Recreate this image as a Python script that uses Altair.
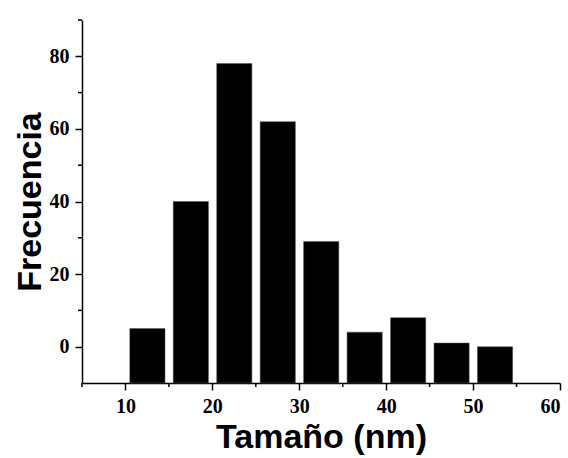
import altair as alt
import pandas as pd

bin_start = [10, 15, 20, 25, 30, 35, 40, 45, 50]
frecuencia = [5, 40, 78, 62, 29, 4, 8, 1, 0]
x_major = [10, 20, 30, 40, 50, 60]
x_minor = [5, 15, 25, 35, 45, 55]
y_major = [0, 20, 40, 60, 80]
y_minor = [10, 30, 50, 70, 90]

W, H = 478, 363

df = pd.DataFrame({"start": bin_start, "freq": frecuencia})
xs = alt.Scale(domain=[5, 60], nice=False, zero=False)
ys = alt.Scale(domain=[-10, 90], nice=False, zero=False)

bars = alt.Chart(df).transform_calculate(
    x0="datum.start + 0.5", x1="datum.start + 4.55", base="-10"
).mark_bar(color="black", stroke="#555", strokeWidth=0.5).encode(
    x=alt.X("x0:Q", scale=xs, title="Tamaño (nm)",
            axis=alt.Axis(values=x_major, tickSize=7, tickWidth=1.5, labelPadding=6,
                          titlePadding=4, labelFontSize=20)),
    x2="x1:Q",
    y=alt.Y("freq:Q", scale=ys, title="Frecuencia",
            axis=alt.Axis(values=y_major, tickSize=7, tickWidth=1.5, labelPadding=6,
                          titlePadding=2, labelFontSize=20)),
    y2="base:Q",
)

xminor = alt.Chart(pd.DataFrame({"v": x_minor})).mark_rule(color="black", strokeWidth=1.5).encode(
    x=alt.X("v:Q", scale=xs), y=alt.value(H), y2=alt.value(H + 4)
)
yminor = alt.Chart(pd.DataFrame({"v": y_minor})).mark_rule(color="black", strokeWidth=1.5).encode(
    y=alt.Y("v:Q", scale=ys), x=alt.value(0), x2=alt.value(-4)
)

chart = alt.layer(bars, xminor, yminor).properties(
    width=W, height=H,
    autosize=alt.AutoSizeParams(type="none"),
    padding={"left": 82, "top": 20, "right": 8, "bottom": 75},
    background="white",
).configure_view(stroke=None).configure_axis(
    grid=False,
    domainColor="black", domainWidth=1.5,
    tickColor="black",
    labelFont="Liberation Serif", labelFontWeight="bold", labelColor="black",
    titleFont="Liberation Sans", titleFontWeight="bold", titleFontSize=34, titleColor="black",
)

chart.save("out.html", embed_options={"renderer": "svg", "actions": False})
